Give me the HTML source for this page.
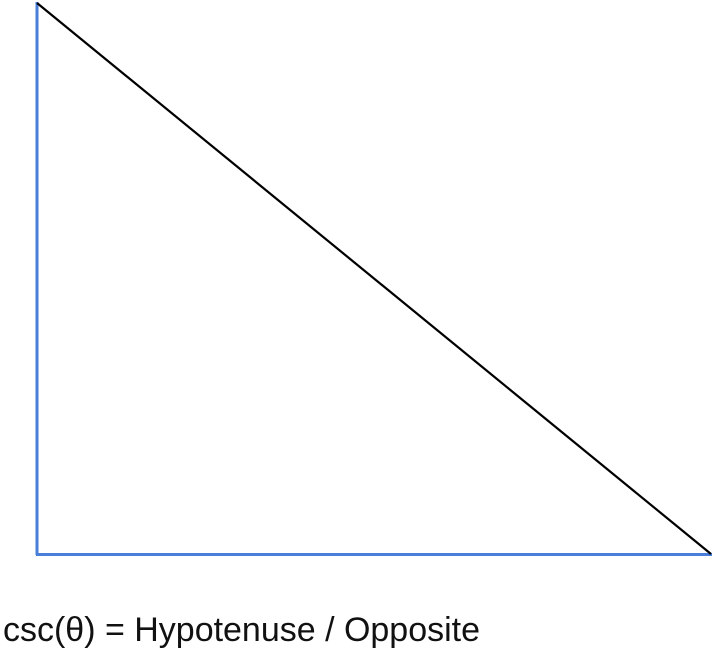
<!DOCTYPE html>
<html><head><meta charset="utf-8"><style>html,body{margin:0;padding:0;background:#fff;width:715px;height:660px;overflow:hidden}</style></head>
<body>
<svg width="715" height="660">
<line x1="37" y1="2" x2="37" y2="555" stroke="#4a7fd9" stroke-width="3"/>
<line x1="36" y1="554.5" x2="712" y2="554.5" stroke="#4a7fd9" stroke-width="3"/>
<line x1="37" y1="3" x2="711" y2="554" stroke="#000" stroke-width="2.2"/>
<text x="3" y="641" font-family="Liberation Sans, sans-serif" font-size="34" fill="#111" textLength="477" lengthAdjust="spacingAndGlyphs">csc(θ) = Hypotenuse / Opposite</text>
</svg>
</body></html>
